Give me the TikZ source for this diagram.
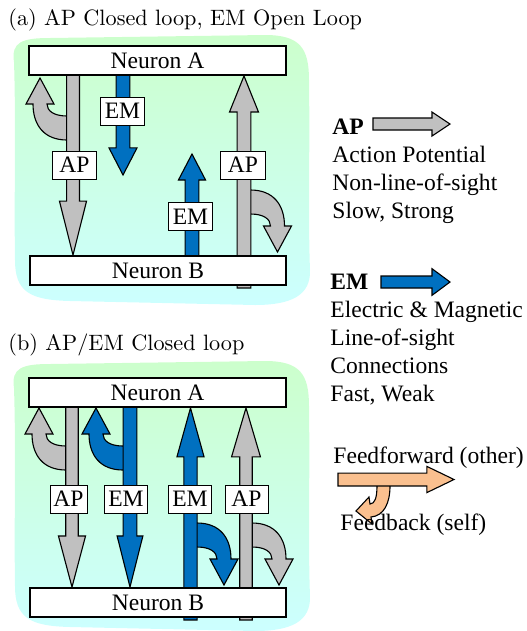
\documentclass[tikz,border=0pt]{standalone}
\usepackage{fontspec}
\usetikzlibrary{calc}
\newfontfamily\tms{Liberation Serif}
\definecolor{apgray}{RGB}{192,192,192}
\definecolor{emblue}{RGB}{0,112,192}
\definecolor{fbpeach}{RGB}{250,192,143}
\definecolor{bgtop}{RGB}{204,255,204}
\definecolor{bgbottom}{RGB}{204,255,255}
\newcommand{\lblfont}{\tms\fontsize{10.6}{12.6}\selectfont}

% block arrow: #1 start, #2 tip, #3 fill, #4 head length, #5 half shaft, #6 half head
\newcommand{\blockarrow}[6]{%
  \coordinate (ba-s) at #1;
  \coordinate (ba-t) at #2;
  \coordinate (ba-h) at ($(ba-t)!#4!(ba-s)$);
  \draw[blockline,fill=#3] ($(ba-s)!#5!90:(ba-t)$) -- ($(ba-h)!#5!90:(ba-t)$)
    -- ($(ba-h)!#6!90:(ba-t)$) -- (ba-t) -- ($(ba-h)!#6!-90:(ba-t)$)
    -- ($(ba-h)!#5!-90:(ba-t)$) -- ($(ba-s)!#5!-90:(ba-t)$) -- cycle;
}

\tikzset{
  blockline/.style={draw=black,line width=0.5pt,line join=miter},
  neuron/.style={draw,line width=0.9pt,fill=white,minimum width=115.6pt,minimum height=13pt,inner sep=0pt,font=\lblfont},
  sig/.style={draw,line width=0.4pt,fill=white,minimum width=20pt,minimum height=12.6pt,inner sep=0pt,font=\lblfont},
  txt/.style={inner sep=0pt,anchor=base west,font=\lblfont},
  title/.style={inner sep=0pt,anchor=base west,font=\fontsize{10}{12}\selectfont},
  % feedback loop bending back from a shaft
  pics/curl/.style={code={
    \draw[blockline,fill=#1] (3,0) -- (0,0) .. controls (-23,0) and (-34,-15) .. (-34,-36)
      -- (-41,-36) -- (-27,-62) -- (-13,-36) -- (-20,-36)
      .. controls (-20,-29) and (-13,-24) .. (0,-24) -- (3,-24) -- cycle;
  }},
  pics/backdrop/.style={code={
    \shade[top color=bgtop,bottom color=bgbottom] (14,62) .. controls (11,42) and (22,38) .. (50,38)
      -- (265,35) .. controls (300,35) and (309,48) .. (309,80)
      .. controls (310,150) and (308,220) .. (310,270)
      .. controls (311,296) and (290,305) .. (255,305) -- (70,301)
      .. controls (30,300) and (15,292) .. (15,260)
      .. controls (14,200) and (16,120) .. (14,62) -- cycle;
  }}
}

\begin{document}
\begin{tikzpicture}[x=0.45pt,y=-0.45pt]
  \useasboundingbox (0,0) rectangle (527,631);

  \pic at (0,0) {backdrop};
  \pic at (0,326) {backdrop};

  % (a) panel
  \node[title] (titleA) at (8,25) {(a) AP Closed loop, EM Open Loop};
  \node[neuron] (neuronA1) at (157.5,60.5) {Neuron A};
  \node[neuron] (neuronB1) at (158,270.5) {Neuron B};

  \pic at (67,140) {curl=apgray};
  \pic[rotate=180] at (250.5,190) {curl=apgray};
  \blockarrow{(neuronA1 -| 73,0)}{(neuronB1.north -| 73,0)}{apgray}{24.3pt}{2.9pt}{6.1pt}
  \coordinate (emtipA) at (123,175);
  \blockarrow{(neuronA1 -| 123,0)}{(emtipA)}{emblue}{12.2pt}{3.1pt}{6.3pt}
  \coordinate (emtipB) at (192,154);
  \blockarrow{(neuronB1 -| 192,0)}{(emtipB)}{emblue}{11.7pt}{3.1pt}{6.1pt}
  \blockarrow{($(neuronB1.south -| 244,0)+(0,2)$)}{(neuronA1.south -| 244,0)}{apgray}{16.2pt}{3.1pt}{6.5pt}

  \node[neuron] at (neuronA1) {Neuron A};
  \node[neuron] at (neuronB1) {Neuron B};

  \node[sig] (apA1) at (74.5,165) {AP};
  \node[sig] (emA1) at (122.5,111) {EM};
  \node[sig] (emA2) at (190.5,216.5) {EM};
  \node[sig] (apA2) at (243,165) {AP};

  % (b) panel
  \node[title] (titleB) at (8,350) {(b) AP/EM Closed loop};
  \node[neuron] (neuronA2) at (157.5,392.5) {Neuron A};
  \node[neuron] (neuronB2) at (158,602.5) {Neuron B};

  \pic at (66,470) {curl=apgray};
  \pic at (123,470) {curl=emblue};
  \pic[rotate=180] at (197,523) {curl=emblue};
  \pic[rotate=180] at (252,523) {curl=apgray};
  \blockarrow{(neuronA2 -| 72,0)}{(neuronB2.north -| 72,0)}{apgray}{23pt}{2.8pt}{6.1pt}
  \blockarrow{(neuronA2 -| 130,0)}{(neuronB2.north -| 130,0)}{emblue}{23pt}{3.1pt}{5.8pt}
  \blockarrow{($(neuronB2.south -| 190.5,0)+(0,2)$)}{(neuronA2.south -| 190.5,0)}{emblue}{22pt}{3pt}{6.1pt}
  \blockarrow{($(neuronB2.south -| 246,0)+(0,2)$)}{(neuronA2.south -| 246,0)}{apgray}{22pt}{2.8pt}{6.5pt}

  \node[neuron] at (neuronA2) {Neuron A};
  \node[neuron] at (neuronB2) {Neuron B};

  \node[sig,minimum width=16.6pt] (apB1) at (68.5,499) {AP};
  \node[sig,minimum width=19pt] (emB1) at (126,499) {EM};
  \node[sig,minimum width=19pt] (emB2) at (190,499) {EM};
  \node[sig,minimum width=19.4pt] (apB2) at (246.5,499) {AP};

  % key (anchored on the last line)
  \node[txt,align=left] (apkey) at (332,218) {\textbf{AP}\\Action Potential\\Non-line-of-sight\\Slow, Strong};
  \blockarrow{(373,124)}{(450,124)}{apgray}{8.1pt}{2.7pt}{5.4pt}
  \node[txt,align=left] (emkey) at (330,401) {\textbf{EM}\\Electric \& Magnetic\\Line-of-sight\\Connections\\Fast, Weak};
  \blockarrow{(381,282)}{(450,282)}{emblue}{8.1pt}{2.7pt}{6pt}

  \node[txt] (fftxt) at (333,463) {Feedforward (other)};
  \draw[blockline,fill=fbpeach] (390,483) -- (390,486) .. controls (390,503) and (384,516) .. (371,517)
    -- (372,524) -- (356,511) -- (369,497) -- (370,504)
    .. controls (375,504) and (377,497) .. (377,486) -- (377,483) -- cycle;
  \blockarrow{(338,479.5)}{(454,479.5)}{fbpeach}{12.2pt}{2.9pt}{5.9pt}
  \node[txt] (fbtxt) at (340,530) {Feedback (self)};
\end{tikzpicture}
\end{document}
